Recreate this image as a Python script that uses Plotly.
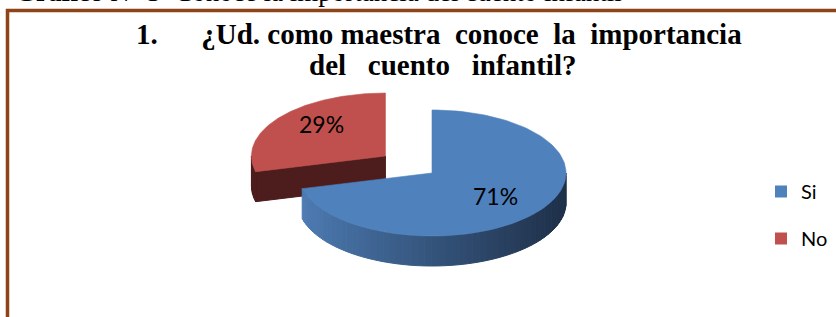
import numpy as np
import plotly.graph_objects as go

# ---------------- data ----------------
labels = ["Si", "No"]
values = [71, 29]
top_colors = ["#4F81BD", "#C0504D"]
side_dark = ["#1E3049", "#4D1D1D"]
side_light = ["#4E7DB5", "#4D1D1D"]
pull = [0.0, 0.44]
caption_bold = "Gráfico"
caption_rest = " N° 3  Conoce la importancia del cuento infantil"
title_line1 = "1.\u00a0\u00a0\u00a0\u00a0\u00a0\u00a0¿Ud.\u00a0como maestra\u00a0\u00a0conoce\u00a0\u00a0la\u00a0\u00a0importancia"
title_line2 = "del\u00a0\u00a0\u00a0cuento\u00a0\u00a0\u00a0infantil?"

# ---------------- layout constants ----------------
W, H = 836, 317
CX, CY, RX, RY, DEPTH = 432, 173, 134, 63, 30
BORDER = "#8E4418"


def hexrgb(h):
    h = h.lstrip("#")
    return np.array([int(h[i:i + 2], 16) for i in (0, 2, 4)], dtype=float)


def lerp_color(c1, c2, t):
    c = hexrgb(c1) * (1 - t) + hexrgb(c2) * t
    return "rgb(%d,%d,%d)" % tuple(np.round(c).astype(int))


def edge(theta, cx, cy, r=1.0):
    t = np.radians(theta)
    return cx + RX * r * np.sin(t), cy - RY * r * np.cos(t)


fig = go.Figure()

total = float(sum(values))
starts, ends = [], []
acc = 0.0
for v in values:
    starts.append(acc / total * 360.0)
    acc += v
    ends.append(acc / total * 360.0)

centers = []
for i in range(len(values)):
    mid = np.radians((starts[i] + ends[i]) / 2)
    dx = pull[i] * RX * np.sin(mid)
    dy = -pull[i] * RY * np.cos(mid)
    centers.append((CX + dx, CY + dy))


def poly(xs, ys, color, lw=1):
    fig.add_trace(go.Scatter(
        x=list(xs) + [xs[0]], y=list(ys) + [ys[0]], mode="lines", fill="toself",
        fillcolor=color, line=dict(color=color, width=lw), hoverinfo="skip",
        showlegend=False))


# draw back slice (No) first, then front slice (Si)
order = [1, 0]
label_pos = {}
label_shift = {}
for i in order:
    cx, cy = centers[i]
    s, e = starts[i], ends[i]
    # radial cut face at start angle (visible when facing front)
    if 180 <= s <= 360 and i == 1:
        ox, oy = edge(s, cx, cy)
        poly([cx, ox, ox, cx], [cy, oy, oy + DEPTH, cy + DEPTH], side_dark[i])
    # outer wall, visible where 90 <= theta <= 270
    a0, a1 = max(s, 90.0), min(e, 270.0)
    if a1 > a0:
        n = max(2, int((a1 - a0) / 3))
        th = np.linspace(a0, a1, n + 1)
        xs, ys = edge(th, cx, cy)
        xmin, xmax = CX - RX, CX + RX
        for k in range(n):
            xm = (xs[k] + xs[k + 1]) / 2
            t = (xm - xmin) / (xmax - xmin)
            col = lerp_color(side_light[i], side_dark[i], min(max(t, 0), 1) ** 0.9)
            px = [xs[k], xs[k + 1], xs[k + 1], xs[k]]
            py = [ys[k], ys[k + 1], ys[k + 1] + DEPTH, ys[k] + DEPTH]
            poly(px, py, col)
    # top face
    th = np.linspace(s, e, 120)
    xs, ys = edge(th, cx, cy)
    poly([cx] + list(xs), [cy] + list(ys), top_colors[i], lw=0.6)
    mid = (s + e) / 2
    label_pos[i] = edge(mid, cx, cy, 0.6)
    # perspective: labels on the back half sit a little higher
    label_shift[i] = 15 * max(0.0, np.cos(np.radians(mid)))

# legend entries
for i in range(len(values)):
    fig.add_trace(go.Scatter(
        x=[None], y=[None], mode="markers", name=labels[i],
        marker=dict(symbol="square", size=12, color=top_colors[i]),
        legendgroup=labels[i], showlegend=True))

annotations = []
for i in range(len(values)):
    lx, ly = label_pos[i]
    annotations.append(dict(
        x=lx, y=ly, xref="x", yref="y", text="%d%%" % round(values[i] / total * 100),
        showarrow=False, yshift=label_shift[i],
        font=dict(family="Lato", size=23, color="black")))

annotations.append(dict(
    x=13, y=9.5, xref="x", yref="y", xanchor="left", yanchor="bottom",
    text="<b>%s</b>%s" % (caption_bold, caption_rest), showarrow=False,
    font=dict(family="Liberation Serif", size=27, color="black")))
annotations.append(dict(
    x=439, y=52, xref="x", yref="y", xanchor="center", yanchor="bottom",
    text="<b>%s</b>" % title_line1, showarrow=False,
    font=dict(family="Liberation Serif", size=29, color="black")))
annotations.append(dict(
    x=442, y=83, xref="x", yref="y", xanchor="center", yanchor="bottom",
    text="<b>%s</b>" % title_line2, showarrow=False,
    font=dict(family="Liberation Serif", size=29, color="black")))

shapes = [dict(type="rect", xref="x", yref="y", x0=7.5, y0=10.5, x1=W + 20, y1=H + 20,
               line=dict(color=BORDER, width=3.5), fillcolor="rgba(0,0,0,0)")]

fig.update_layout(
    width=W, height=H, margin=dict(l=0, r=0, t=0, b=0),
    paper_bgcolor="white", plot_bgcolor="white",
    xaxis=dict(range=[0, W], visible=False, fixedrange=True),
    yaxis=dict(range=[H, 0], visible=False, fixedrange=True),
    showlegend=True,
    legend=dict(x=761 / W, y=1 - 172 / H, xanchor="left", yanchor="top",
                font=dict(family="Lato", size=20, color="black"),
                tracegroupgap=18, bgcolor="rgba(0,0,0,0)"),
    annotations=annotations, shapes=shapes,
)

fig.write_html("out.html", config={"displayModeBar": False},
               post_script="document.body.style.margin='0';document.body.style.overflow='hidden';")
